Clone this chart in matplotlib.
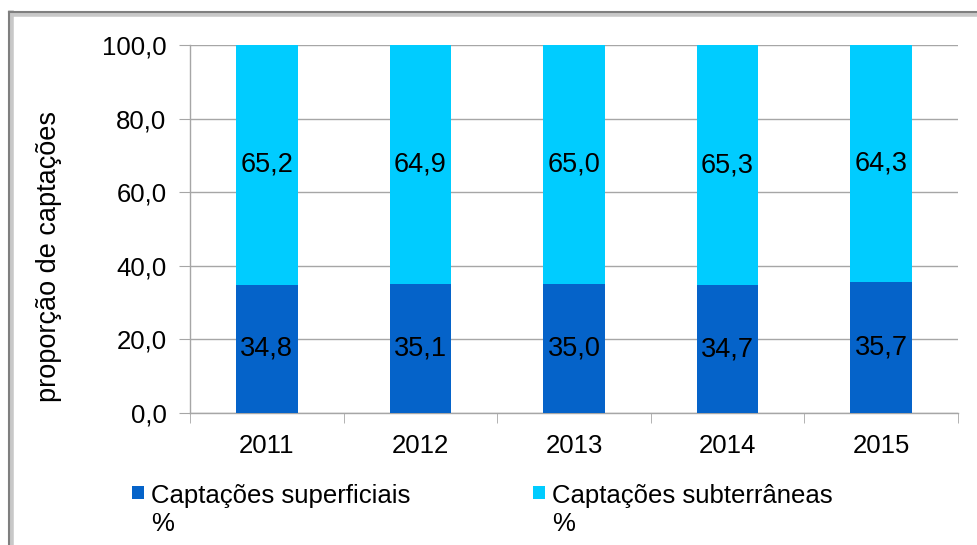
"""Proporção de captações superficiais e subterrâneas, 2011-2015."""

import matplotlib

matplotlib.use("Agg")
import matplotlib.pyplot as plt
from matplotlib.lines import Line2D
from matplotlib.patches import Rectangle
from matplotlib.ticker import FuncFormatter, MultipleLocator

plt.rcParams["font.family"] = ["Liberation Sans", "DejaVu Sans"]

years = ["2011", "2012", "2013", "2014", "2015"]
superficiais = [34.8, 35.1, 35.0, 34.7, 35.7]
subterraneas = [65.2, 64.9, 65.0, 65.3, 64.3]
series_names = ["Captações superficiais\n%", "Captações subterrâneas\n%"]

DARK = "#0563C9"
LIGHT = "#00CCFF"
GRID = "#A6A6A6"
W, H = 977, 545


def pt(v):
    return f"{v:.1f}".replace(".", ",")


fig = plt.figure(figsize=(W / 100, H / 100), dpi=100)
ax = fig.add_axes([190 / W, 1 - 413 / H, 768 / W, 368 / H])

x = list(range(len(years)))
b1 = ax.bar(x, superficiais, width=0.4, color=DARK, zorder=3)
b2 = ax.bar(x, subterraneas, width=0.4, bottom=superficiais, color=LIGHT, zorder=3)
for bars in (b1, b2):
    ax.bar_label(bars, labels=[pt(b.get_height()) for b in bars],
                 label_type="center", fontsize=19.5, color="black", zorder=4)

ax.set_xlim(-0.5, len(years) - 0.5)
ax.set_ylim(0, 100)
ax.yaxis.set_major_locator(MultipleLocator(20))
ax.yaxis.set_major_formatter(FuncFormatter(lambda v, _: pt(v)))
ax.set_xticks(x)
ax.set_xticklabels(years)
ax.set_xticks([i - 0.5 for i in range(len(years) + 1)], minor=True)
ax.tick_params(axis="x", which="major", length=0, pad=15, labelsize=18.5)
ax.tick_params(axis="x", which="minor", length=7, color=GRID, direction="out")
ax.tick_params(axis="y", length=8, color=GRID, pad=9, labelsize=18.5)
ax.yaxis.grid(True, color=GRID, linewidth=1, zorder=0)
ax.set_axisbelow(True)
for side in ("top", "right"):
    ax.spines[side].set_visible(False)
for side in ("left", "bottom"):
    ax.spines[side].set_color(GRID)
    ax.spines[side].set_linewidth(1)
ax.set_ylabel("proporção de captações", fontsize=19.5)
ax.yaxis.set_label_coords(-128 / 768, (413 - 257) / 368)

# legend drawn by hand: square marker level with the first text line
# (va="baseline" on multi-line text anchors the last line)
for name, color, mx in zip(series_names, (DARK, LIGHT), (132, 533)):
    fig.add_artist(Rectangle((mx / W, 1 - 499 / H), 12 / W, 13 / H,
                             transform=fig.transFigure, facecolor=color, edgecolor="none"))
    fig.text((mx + 19) / W, 1 - 531 / H, name, fontsize=18.5, va="baseline", ha="left")

# outer chart frame (cut off on right and bottom in the original)
fig.add_artist(Line2D([11 / W, 11 / W], [0, 1 - 13 / H], transform=fig.transFigure,
                      color="#C8C8C8", linewidth=4))
fig.add_artist(Line2D([11 / W, 1], [1 - 14 / H, 1 - 14 / H], transform=fig.transFigure,
                      color="#C8C8C8", linewidth=4))
fig.add_artist(Line2D([9 / W, 9 / W], [0, 1 - 12 / H], transform=fig.transFigure,
                      color="#7F7F7F", linewidth=1.5))
fig.add_artist(Line2D([9 / W, 1], [1 - 12 / H, 1 - 12 / H], transform=fig.transFigure,
                      color="#7F7F7F", linewidth=1.5))

fig.savefig("out.png", dpi=100)
